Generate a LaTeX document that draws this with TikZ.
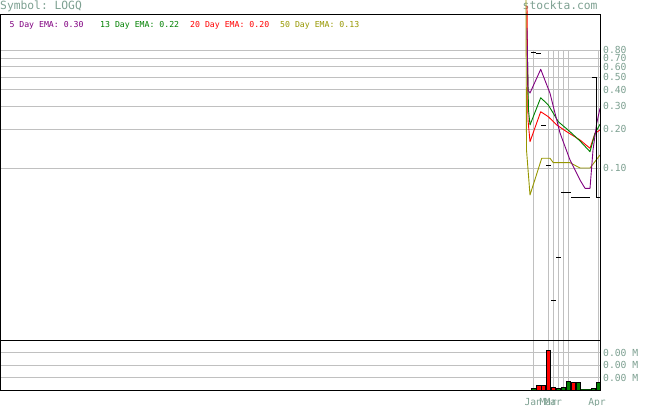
\documentclass[tikz,border=0pt]{standalone}
\usepackage{fontspec}
\setmonofont{DejaVu Sans Mono}
\usepackage{tikz}
\definecolor{labgray}{RGB}{125,160,145}
\definecolor{gridgray}{RGB}{192,192,192}
\definecolor{emapurple}{RGB}{128,0,128}
\definecolor{emagreen}{RGB}{0,128,0}
\definecolor{emared}{RGB}{255,0,0}
\definecolor{emaolive}{RGB}{150,150,0}
\tikzset{
  axlabel/.style = {anchor = west, inner sep = 0pt, text = labgray, font = \ttfamily\fontsize{9.7}{10}\selectfont},
  legend/.style = {anchor = base west, inner sep = 0pt, font = \ttfamily\fontsize{8.2}{9}\selectfont},
  bigtext/.style = {anchor = base west, inner sep = 0pt, text = labgray, font = \ttfamily\fontsize{11.3}{12}\selectfont},
  ema/.style = {line width = 0.9pt, line join = round}
}
\begin{document}
\begin{tikzpicture}[x = 1pt, y = -1pt]
\useasboundingbox (0,0) rectangle (655,406);

\node[bigtext] (symbol) at (0,9.5) {Symbol: LOGQ};
\node[bigtext] (site) at (522.5,10) {stockta.com};

\node[legend, text = emapurple] (ema5) at (9.3,27.5) {5 Day EMA: 0.30};
\node[legend, text = emagreen] (ema13) at (100,27.5) {13 Day EMA: 0.22};
\node[legend, text = emared] (ema20) at (190,27.5) {20 Day EMA: 0.20};
\node[legend, text = emaolive] (ema50) at (280,27.5) {50 Day EMA: 0.13};

\foreach \p in {0.80, 0.70, 0.60, 0.50, 0.40, 0.30, 0.20, 0.10} {
	\draw[gridgray] (0.5,{168.3-56.8*ln(\p/0.1)}) -- (600,{168.3-56.8*ln(\p/0.1)});
	\node[axlabel] (p\p) at (603,{168.3-56.8*ln(\p/0.1)}) {\p};
}

\foreach \y [count = \i] in {352.5, 365, 377.5} {
	\draw[gridgray] (0.5,\y) -- (600,\y);
	\node[axlabel] (v\i) at (603,\y) {0.00 M};
}

\foreach \x in {533.3, 548.3, 553.3, 558.3, 563.3, 568.3, 598.5} {
	\draw[gridgray] (\x,50) -- (\x,390);
}

\draw[ema, emaolive] plot coordinates {(526,0) (526.5,150) (530,195) (541.7,158.3) (550,158.3) (553.3,162.7) (570,162.7) (580,168) (590,168) (600,155)};
\draw[ema, emared] plot coordinates {(527,6) (528,120) (530,141.7) (540.7,111.7) (548.3,116.7) (556.7,125) (566.7,131.7) (580,140) (590,148.3) (595,133.3) (600,130)};
\draw[ema, emagreen] plot coordinates {(527.5,60) (528.5,110) (530,125) (540.7,97.7) (548.3,105) (553.3,113.3) (558.3,121.7) (570,131.7) (580,141) (590,151.7) (595,133.3) (600,124.3)};
\draw[ema, emapurple] plot coordinates {(527,28) (528,90) (530,93) (540.7,69.3) (550,93.3) (560,133) (570,160) (580,180) (585,188.3) (590,188.3) (593,150) (596.7,123.3) (600,108.3)};

\foreach \a/\b/\y in {531/535.7/52.7, 536/541/54, 541/545.7/126, 546/550.7/166, 551/555.7/300, 556/560.7/257.3, 561/570.7/192, 571/590/197} {
	\draw[line width = 1pt] (\a,\y) -- (\b,\y);
}
\draw[line width = 1pt] (591.7,77.3) -- (596.7,77.3) -- (596.7,197.3) -- (600,197.3);

\foreach \x/\h/\c in {531.7/388.3/emagreen, 536.7/385.3/emared, 541/385.3/emared, 546/350.3/emared, 551/387.3/emared, 556/388.7/emagreen, 561/387.3/emagreen, 566/381.3/emagreen, 571/382.3/emared, 576/382.3/emagreen, 591/388.3/emagreen, 596/382.3/emagreen} {
	\draw[fill = \c, line width = 0.7pt] (\x,390) rectangle (\x+4.3,\h);
}
\draw[emagreen!60!black, line width = 0.8pt] (581,389.3) -- (591,389.3);

\draw[line width = 1pt] (0.5,15) rectangle (600,390);
\draw[line width = 1pt] (0.5,340) -- (600,340);

\foreach \x/\m [count = \i] in {533.3/Jan, 548.3/Mar, 553.3/Mar, 597/Apr} {
	\node[anchor = base, inner sep = 0pt, text = labgray, font = \ttfamily\fontsize{9.7}{10}\selectfont] (m\i) at (\x,405) {\m};
}
\end{tikzpicture}
\end{document}
